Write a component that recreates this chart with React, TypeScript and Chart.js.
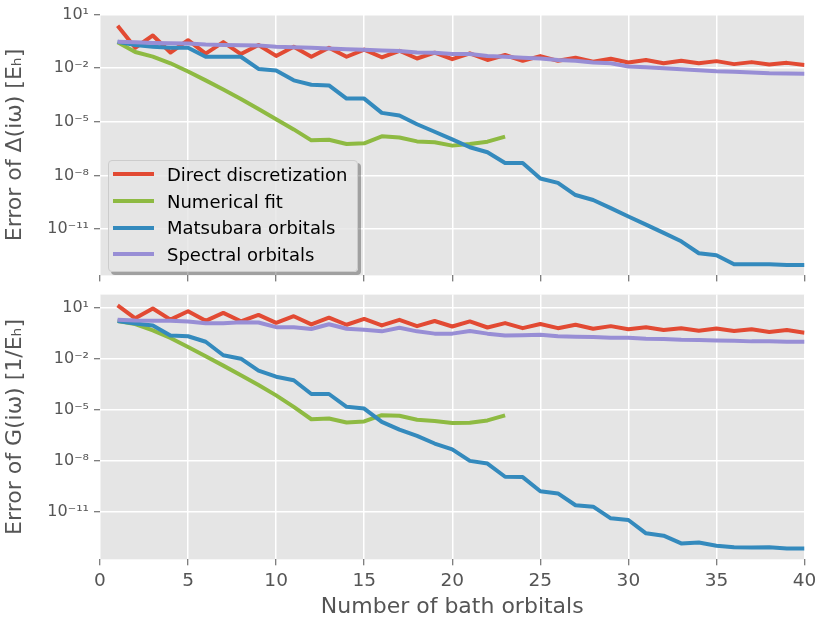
import React, { useEffect, useRef } from "react";
import { Chart, ChartDataset, registerables } from "chart.js";

Chart.register(...registerables);
Chart.defaults.font.family = "'DejaVu Sans', sans-serif";

// number of bath orbitals (x axis categories)
const nOrbitals = [
  1, 2, 3, 4, 5, 6, 7, 8, 9, 10, 11, 12, 13, 14, 15, 16, 17, 18, 19, 20,
  21, 22, 23, 24, 25, 26, 27, 28, 29, 30, 31, 32, 33, 34, 35, 36, 37, 38, 39, 40,
];

const seriesNames = ["Direct discretization", "Numerical fit", "Matsubara orbitals", "Spectral orbitals"];
const seriesColors = ["#E24A33", "#8EBA42", "#348ABD", "#988ED5"];

// error of the hybridization function Delta(iw)
const deltaDirect = [
  2.4, 0.14, 0.68, 0.076, 0.37, 0.066, 0.29, 0.062, 0.2, 0.049,
  0.16, 0.044, 0.14, 0.044, 0.11, 0.041, 0.095, 0.035, 0.074, 0.032,
  0.068, 0.029, 0.055, 0.026, 0.048, 0.026, 0.039, 0.023, 0.034, 0.021,
  0.029, 0.019, 0.026, 0.019, 0.025, 0.017, 0.022, 0.016, 0.02, 0.015,
];
const deltaFit = [
  0.28, 0.081, 0.045, 0.019, 0.0066, 0.0021, 6.5e-4, 1.9e-4, 5.2e-5, 1.4e-5,
  3.8e-6, 9.3e-7, 1.0e-6, 5.8e-7, 6.3e-7, 1.55e-6, 1.35e-6, 8.1e-7, 7.2e-7, 4.7e-7,
  5.8e-7, 7.8e-7, 1.5e-6,
];
const deltaMatsubara = [
  0.3, 0.2, 0.16, 0.14, 0.14, 0.044, 0.044, 0.044, 0.0091, 0.0074,
  0.0021, 0.0012, 0.0011, 2.0e-4, 2.0e-4, 3.2e-5, 2.3e-5, 7.4e-6, 2.8e-6, 1.05e-6,
  3.8e-7, 2.0e-7, 5.0e-8, 5.0e-8, 6.8e-9, 3.9e-9, 8.1e-10, 4.3e-10, 1.5e-10, 5.1e-11,
  1.8e-11, 6.2e-12, 2.1e-12, 4.5e-13, 3.5e-13, 1.1e-13, 1.1e-13, 1.1e-13, 1.0e-13, 1.0e-13,
];
const deltaSpectral = [
  0.3, 0.28, 0.26, 0.25, 0.24, 0.21, 0.2, 0.195, 0.19, 0.16,
  0.15, 0.14, 0.126, 0.117, 0.107, 0.098, 0.091, 0.076, 0.074, 0.062,
  0.062, 0.048, 0.044, 0.039, 0.035, 0.029, 0.026, 0.021, 0.019, 0.0126,
  0.0115, 0.01, 0.0088, 0.0078, 0.0068, 0.0063, 0.0058, 0.0053, 0.0051, 0.0049,
];

// error of the Green's function G(iw)
const greenDirect = [
  13.8, 2.4, 9.1, 2.0, 6.3, 1.7, 5.0, 1.6, 3.8, 1.3,
  3.2, 1.05, 2.6, 1.0, 2.2, 0.91, 1.95, 0.83, 1.66, 0.79,
  1.58, 0.69, 1.26, 0.63, 1.1, 0.63, 1.0, 0.58, 0.83, 0.54,
  0.72, 0.49, 0.63, 0.45, 0.6, 0.43, 0.54, 0.37, 0.49, 0.34,
];
const greenFit = [
  1.66, 1.1, 0.47, 0.166, 0.049, 0.0138, 0.0039, 0.00105, 2.8e-4, 6.9e-5,
  1.45e-5, 2.7e-6, 3.0e-6, 1.74e-6, 2.0e-6, 4.7e-6, 4.3e-6, 2.5e-6, 2.1e-6, 1.6e-6,
  1.66e-6, 2.3e-6, 4.6e-6,
];
const greenMatsubara = [
  1.66, 1.2, 0.91, 0.23, 0.21, 0.1, 0.016, 0.01, 0.002, 8.7e-4,
  5.4e-4, 8.3e-5, 8.3e-5, 1.45e-5, 1.15e-5, 1.9e-6, 6.6e-7, 2.8e-7, 1.0e-7, 4.5e-8,
  9.5e-9, 6.6e-9, 1.1e-9, 1.05e-9, 1.55e-10, 1.15e-10, 2.3e-11, 1.9e-11, 3.9e-12, 3.1e-12,
  5.1e-13, 3.7e-13, 1.3e-13, 1.45e-13, 9.5e-14, 7.6e-14, 7.4e-14, 7.6e-14, 6.6e-14, 6.6e-14,
];
const greenSpectral = [
  2.0, 1.8, 1.74, 1.7, 1.58, 1.23, 1.23, 1.41, 1.35, 0.72,
  0.72, 0.56, 1.07, 0.58, 0.51, 0.41, 0.66, 0.41, 0.3, 0.3,
  0.43, 0.3, 0.23, 0.245, 0.26, 0.21, 0.195, 0.19, 0.174, 0.174,
  0.15, 0.145, 0.13, 0.126, 0.12, 0.115, 0.105, 0.105, 0.1, 0.1,
];

const yTickValues = [1e1, 1e-2, 1e-5, 1e-8, 1e-11];

const superDigits: Record<string, string> = {
  "-": "\u207B", "0": "\u2070", "1": "\u00B9", "2": "\u00B2", "3": "\u00B3",
  "4": "\u2074", "5": "\u2075", "6": "\u2076", "7": "\u2077", "8": "\u2078", "9": "\u2079",
};

const powerLabel = (v: number) => {
  const e = String(Math.round(Math.log10(v)));
  return "10" + e.split("").map((c) => superDigits[c]).join("");
};

// gray panel background, ggplot style
const panelBg = {
  id: "panelBg",
  beforeDraw(chart: Chart) {
    const { ctx, chartArea: a } = chart;
    ctx.save();
    ctx.fillStyle = "#E5E5E5";
    ctx.fillRect(a.left, a.top, a.right - a.left, a.bottom - a.top);
    ctx.restore();
  },
};

interface PanelProps {
  series: number[][];
  yMin: number;
  yMax: number;
  yTitle: string;
  showXLabels: boolean;
  top: number;
  height: number;
  xAxisHeight: number;
}

const Panel = ({ series, yMin, yMax, yTitle, showXLabels, top, height, xAxisHeight }: PanelProps) => {
  const canvasRef = useRef<HTMLCanvasElement | null>(null);

  useEffect(() => {
    if (!canvasRef.current) return;

    const datasets: ChartDataset<"line">[] = series.map((values, i) => ({
      label: seriesNames[i],
      data: values.map((v, j) => ({ x: nOrbitals[j], y: v })),
      borderColor: seriesColors[i],
      backgroundColor: seriesColors[i],
      borderWidth: 4,
      borderJoinStyle: "round",
      pointRadius: 0,
      tension: 0,
      order: 4 - i,
    }));

    const chart = new Chart(canvasRef.current, {
      type: "line",
      data: { datasets },
      plugins: [panelBg],
      options: {
        animation: false,
        responsive: false,
        layout: { padding: { top: 14, right: 25.5, left: 0, bottom: 0 } },
        plugins: { legend: { display: false }, tooltip: { enabled: false } },
        scales: {
          x: {
            type: "linear",
            min: 0,
            max: 40,
            border: { display: false },
            grid: { color: "#FFFFFF", lineWidth: 1.5, tickColor: "#555555", tickWidth: 1, tickLength: 6 },
            ticks: { display: showXLabels, stepSize: 5, color: "#555555", font: { size: 18.5 }, padding: 5 },
            title: {
              display: showXLabels,
              text: "Number of bath orbitals",
              color: "#555555",
              font: { size: 22 },
              padding: { top: 0, bottom: 3 },
            },
            afterFit: (scale) => {
              scale.height = xAxisHeight;
            },
          },
          y: {
            type: "logarithmic",
            min: yMin,
            max: yMax,
            bounds: "data",
            border: { display: false },
            grid: { color: "#FFFFFF", lineWidth: 1.5, tickColor: "#555555", tickWidth: 1, tickLength: 6 },
            ticks: {
              color: "#555555",
              font: { size: 16 },
              padding: 5,
              callback: (value) => powerLabel(Number(value)),
            },
            afterBuildTicks: (scale) => {
              scale.ticks = yTickValues.map((v) => ({ value: v }));
            },
            title: {
              display: true,
              text: yTitle,
              color: "#555555",
              font: { size: 22 },
              padding: { top: 2.5, bottom: 0 },
            },
            afterFit: (scale) => {
              scale.width = 100;
            },
          },
        },
      },
    });

    return () => chart.destroy();
  }, [series, yMin, yMax, yTitle, showXLabels, xAxisHeight]);

  return (
    <canvas
      ref={canvasRef}
      width={830}
      height={height}
      style={{ position: "absolute", left: 0, top, width: 830, height }}
    />
  );
};

const deltaSeries = [deltaDirect, deltaFit, deltaMatsubara, deltaSpectral];
const greenSeries = [greenDirect, greenFit, greenMatsubara, greenSpectral];

const App = () => {
  return (
    <div style={{ position: "absolute", left: 0, top: 0, width: 830, height: 623, background: "#FFFFFF" }}>
      <Panel
        series={deltaSeries}
        yMin={2.6e-14}
        yMax={10}
        yTitle={"Error of \u0394(i\u03C9) [E\u2095]"}
        showXLabels={false}
        top={0}
        height={290}
        xAxisHeight={12}
      />
      <Panel
        series={greenSeries}
        yMin={1.5e-14}
        yMax={60}
        yTitle={"Error of G(i\u03C9) [1/E\u2095]"}
        showXLabels={true}
        top={280}
        height={343}
        xAxisHeight={63.7}
      />
      {/* legend of the upper panel */}
      <div
        style={{
          position: "absolute",
          left: 108,
          top: 160,
          width: 250,
          height: 112,
          boxSizing: "border-box",
          border: "1px solid #CCCCCC",
          borderRadius: 4,
          background: "rgba(229,229,229,0.8)",
          boxShadow: "3px 3px 0 rgba(0,0,0,0.3)",
          fontFamily: "'DejaVu Sans', sans-serif",
          fontSize: 18,
          color: "#000000",
        }}
      >
        {seriesNames.map((name, i) => (
          <div key={name} style={{ height: 26.7, display: "flex", alignItems: "center" }}>
            <span style={{ display: "inline-block", marginLeft: 4, width: 41, height: 4, background: seriesColors[i] }} />
            <span style={{ marginLeft: 13, whiteSpace: "nowrap" }}>{name}</span>
          </div>
        ))}
      </div>
    </div>
  );
};

export default App;
